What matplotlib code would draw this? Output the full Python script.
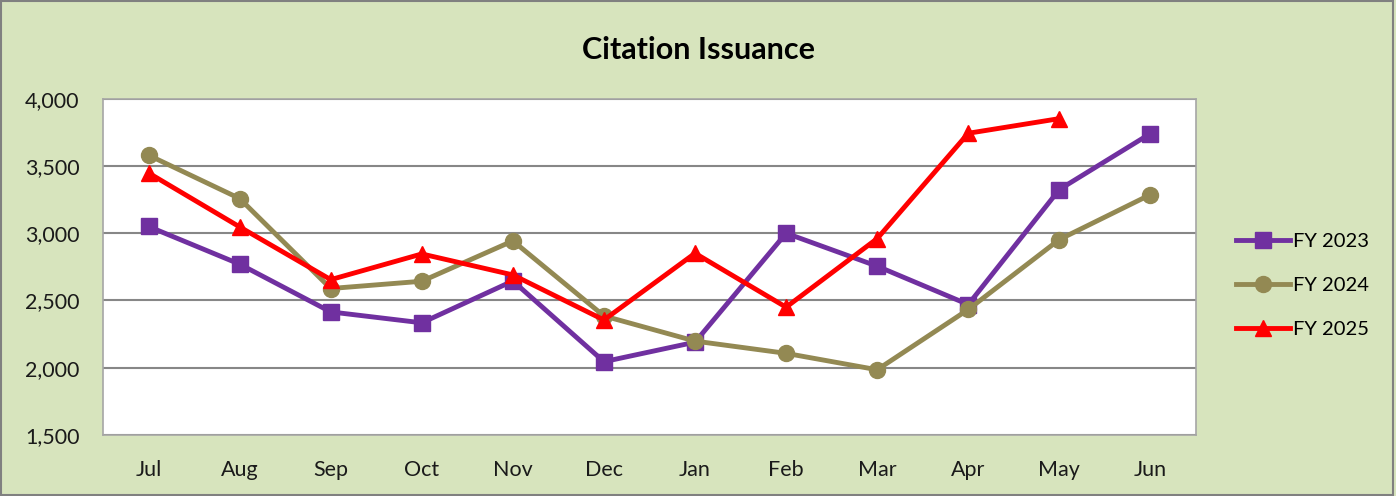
import matplotlib

matplotlib.use("Agg")

import matplotlib.pyplot as plt
from matplotlib.patches import Rectangle

MONTHS = ["Jul", "Aug", "Sep", "Oct", "Nov", "Dec", "Jan", "Feb", "Mar", "Apr", "May", "Jun"]
FY2023 = [3050, 2770, 2415, 2334, 2645, 2045, 2190, 3000, 2755, 2470, 3325, 3741]
FY2024 = [3580, 3258, 2589, 2643, 2943, 2385, 2198, 2107, 1985, 2433, 2953, 3287]
FY2025 = [3448, 3047, 2655, 2846, 2690, 2355, 2851, 2450, 2960, 3743, 3852]
Y_TICKS = [1500, 2000, 2500, 3000, 3500, 4000]

BG = "#D7E4BD"
FONT = ["Lato", "DejaVu Sans"]

plt.rcParams["font.family"] = FONT

fig = plt.figure(figsize=(13.96, 4.96), dpi=100, facecolor=BG)
ax = fig.add_axes([0.0738, 0.123, 0.7829, 0.678])
ax.set_facecolor("white")

x23 = range(len(FY2023))
x24 = range(len(FY2024))
x25 = range(len(FY2025))
ax.plot(x23, FY2023, color="#7030A0", lw=3.5, marker="s", ms=11, label="FY 2023", zorder=3)
ax.plot(x24, FY2024, color="#938953", lw=3.5, marker="o", ms=11.5, label="FY 2024", zorder=3)
ax.plot(x25, FY2025, color="#FF0000", lw=3.5, marker="^", ms=11.5, label="FY 2025", zorder=4)

ax.set_xlim(-0.5, len(MONTHS) - 0.5)
ax.set_ylim(1500, 4000)
ax.set_xticks(range(len(MONTHS)))
ax.set_xticklabels(MONTHS)
ax.set_yticks(Y_TICKS)
ax.set_yticklabels([f"{v:,}" for v in Y_TICKS])
ax.tick_params(axis="both", length=0, labelsize=15.5, colors="#1a1a1a")
ax.tick_params(axis="x", pad=18)
ax.tick_params(axis="y", pad=17)
ax.grid(axis="y", color="#878787", lw=1.5)
ax.set_axisbelow(True)
for spine in ax.spines.values():
    spine.set_color("#A6A6A6")
    spine.set_linewidth(1.2)

fig.text(0.5, 0.9, "Citation Issuance", ha="center", va="center",
         fontsize=22, fontweight="bold", color="black")

ax.legend(loc="center left", bbox_to_anchor=(1.02, 0.445), frameon=False,
          fontsize=14.5, handlelength=2.7, handletextpad=0.15, labelspacing=1.35)

fig.patches.append(Rectangle((0.001, 0.002), 0.997, 0.995, transform=fig.transFigure,
                             fill=False, edgecolor="#808080", lw=1.5))

fig.savefig("out.png", dpi=100, facecolor=BG)
